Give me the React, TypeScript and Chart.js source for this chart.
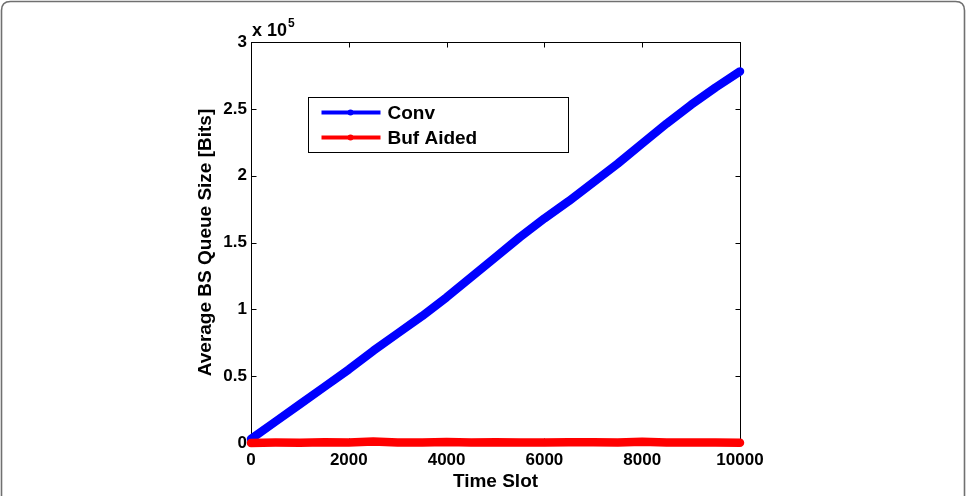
import React, { useEffect, useRef } from "react";
import { Chart, registerables } from "chart.js";

Chart.register(...registerables);

const timeSlots = [0, 500, 1000, 1500, 2000, 2500, 3000, 3500, 4000, 4500, 5000, 5500, 6000, 6500, 7000, 7500, 8000, 8500, 9000, 9500, 10000];
const convQueue = [3000, 16000, 29000, 42000, 55000, 69000, 82000, 95000, 109000, 124000, 139000, 154000, 168000, 181000, 195000, 209000, 224000, 239000, 253000, 266000, 278000];
const bufAidedQueue = [0, 300, 200, 500, 300, 1200, 400, 300, 700, 400, 600, 300, 400, 500, 600, 300, 1000, 400, 300, 400, 200];
const seriesNames = ["Conv", "Buf Aided"];
const seriesColors = ["#0000ff", "#ff0000"];
const xTicks = [0, 2000, 4000, 6000, 8000, 10000];
const yTicks = [0, 50000, 100000, 150000, 200000, 250000, 300000];
const xTitle = "Time Slot";
const yTitle = "Average BS Queue Size [Bits]";
const exponentBase = "x 10";
const exponentPower = "5";

const FONT = "'Liberation Sans', Arial, Helvetica, sans-serif";

const decorPlugin = {
  id: "decor",
  beforeDraw(chart: any) {
    const ctx = chart.ctx;
    ctx.save();
    ctx.fillStyle = "#ffffff";
    ctx.fillRect(0, 0, chart.width, chart.height);
    ctx.strokeStyle = "#707070";
    ctx.lineWidth = 1.6;
    const x0 = 1.5, y0 = 1.5, w = 963, h = 530, r = 9;
    ctx.beginPath();
    ctx.moveTo(x0 + r, y0);
    ctx.lineTo(x0 + w - r, y0);
    ctx.quadraticCurveTo(x0 + w, y0, x0 + w, y0 + r);
    ctx.lineTo(x0 + w, y0 + h);
    ctx.moveTo(x0, y0 + h);
    ctx.lineTo(x0, y0 + r);
    ctx.quadraticCurveTo(x0, y0, x0 + r, y0);
    ctx.stroke();
    ctx.restore();
  },
  beforeDatasetsDraw(chart: any) {
    const { ctx, chartArea: a, scales } = chart;
    const xs = scales.x, ys = scales.y;
    const L = Math.round(a.left) + 0.5, R = Math.round(a.right) + 0.5;
    const T = Math.round(a.top) + 0.5, B = Math.round(a.bottom) + 0.5;
    ctx.save();
    ctx.strokeStyle = "#000000";
    ctx.lineWidth = 1;
    ctx.strokeRect(L, T, R - L, B - T);
    const tl = 5;
    ctx.beginPath();
    xTicks.forEach((v) => {
      const px = Math.round(xs.getPixelForValue(v)) + 0.5;
      ctx.moveTo(px, B); ctx.lineTo(px, B - tl);
      ctx.moveTo(px, T); ctx.lineTo(px, T + tl);
    });
    yTicks.forEach((v) => {
      const py = Math.round(ys.getPixelForValue(v)) + 0.5;
      ctx.moveTo(L, py); ctx.lineTo(L + tl, py);
      ctx.moveTo(R, py); ctx.lineTo(R - tl, py);
    });
    ctx.stroke();
    ctx.fillStyle = "#000000";
    ctx.textBaseline = "alphabetic";
    ctx.textAlign = "left";
    ctx.font = `bold 18px ${FONT}`;
    ctx.fillText(exponentBase, a.left + 1, 36);
    const w = ctx.measureText(exponentBase).width;
    ctx.font = `bold 12px ${FONT}`;
    ctx.fillText(exponentPower, a.left + 1 + w + 1, 27);
    ctx.restore();
  },
  afterDraw(chart: any) {
    const { ctx, chartArea: a } = chart;
    const bx = Math.round(a.left + 57) + 0.5;
    const by = Math.round(a.top + 55) + 0.5;
    const bw = 260, bh = 55;
    ctx.save();
    ctx.fillStyle = "#ffffff";
    ctx.fillRect(bx, by, bw, bh);
    ctx.strokeStyle = "#000000";
    ctx.lineWidth = 1;
    ctx.strokeRect(bx, by, bw, bh);
    seriesNames.forEach((name, i) => {
      const ly = by + 15 + i * 25;
      ctx.strokeStyle = seriesColors[i];
      ctx.lineWidth = 4;
      ctx.lineCap = "butt";
      ctx.beginPath();
      ctx.moveTo(bx + 13, ly);
      ctx.lineTo(bx + 72, ly);
      ctx.stroke();
      ctx.fillStyle = seriesColors[i];
      ctx.beginPath();
      ctx.arc(bx + 42, ly, 3, 0, Math.PI * 2);
      ctx.fill();
      ctx.fillStyle = "#000000";
      ctx.font = `bold 19px ${FONT}`;
      ctx.textBaseline = "middle";
      ctx.textAlign = "left";
      ctx.fillText(name, bx + 79, ly + 1);
    });
    ctx.restore();
  },
};

export default function App() {
  const canvasRef = useRef<HTMLCanvasElement | null>(null);

  useEffect(() => {
    document.body.style.margin = "0";
    const canvas = canvasRef.current;
    if (!canvas) return;
    const seriesValues = [convQueue, bufAidedQueue];
    const chart = new Chart(canvas, {
      type: "line",
      data: {
        datasets: seriesNames.map((name, i) => ({
          label: name,
          data: timeSlots.map((t, j) => ({ x: t, y: seriesValues[i][j] })),
          borderColor: seriesColors[i],
          backgroundColor: seriesColors[i],
          borderWidth: 8.5,
          pointRadius: 0,
          tension: 0,
          fill: false,
          clip: false as any,
          borderCapStyle: "round",
          borderJoinStyle: "round",
          order: i === 0 ? 1 : 0,
        })),
      },
      options: {
        responsive: false,
        animation: false,
        devicePixelRatio: 1,
        layout: { padding: { left: 0, top: 42, right: 228, bottom: 0 } },
        plugins: {
          legend: { display: false },
          tooltip: { enabled: false },
        },
        scales: {
          x: {
            type: "linear",
            min: 0,
            max: 10000,
            afterBuildTicks: (scale: any) => {
              scale.ticks = xTicks.map((value) => ({ value }));
            },
            afterFit: (scale: any) => {
              scale.height = 53;
            },
            grid: { display: false, drawTicks: false },
            border: { display: false },
            ticks: {
              autoSkip: false,
              maxRotation: 0,
              padding: 7,
              color: "#000000",
              font: { family: FONT, size: 17, weight: "bold" },
              callback: (v: any) => String(v),
            },
            title: {
              display: true,
              text: xTitle,
              color: "#000000",
              font: { family: FONT, size: 19, weight: "bold" },
              padding: { top: 0, bottom: 3 },
            },
          },
          y: {
            type: "linear",
            min: 0,
            max: 300000,
            afterBuildTicks: (scale: any) => {
              scale.ticks = yTicks.map((value) => ({ value }));
            },
            afterFit: (scale: any) => {
              scale.width = 251;
            },
            grid: { display: false, drawTicks: false },
            border: { display: false },
            ticks: {
              padding: 4,
              color: "#000000",
              font: { family: FONT, size: 17, weight: "bold" },
              callback: (v: any) => String(Number(v) / 100000),
            },
            title: {
              display: true,
              text: yTitle,
              color: "#000000",
              font: { family: FONT, size: 19, weight: "bold" },
              padding: { top: 194, bottom: 0 },
            },
          },
        },
      } as any,
      plugins: [decorPlugin],
    });
    return () => chart.destroy();
  }, []);

  return (
    <div style={{ position: "fixed", left: 0, top: 0, width: 968, height: 496, background: "#fff" }}>
      <canvas ref={canvasRef} width={968} height={496} style={{ display: "block", width: 968, height: 496 }} />
    </div>
  );
}
